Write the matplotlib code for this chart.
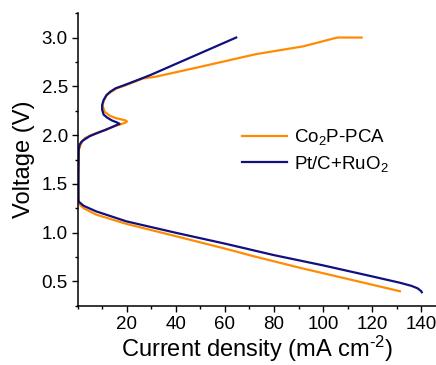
import numpy as np
import matplotlib
matplotlib.use("Agg")
import matplotlib.pyplot as plt
from matplotlib.ticker import MultipleLocator

plt.rcParams['font.family'] = ['Liberation Sans', 'DejaVu Sans']
plt.rcParams['mathtext.fontset'] = 'custom'
plt.rcParams['mathtext.rm'] = 'Liberation Sans'
plt.rcParams['mathtext.it'] = 'Liberation Sans:italic'

# Co2P-PCA: discharge branch then charge branch
co2p_current = [131.3, 111, 90.6, 71.5, 60.5, 40.2, 19.9, 7.6, 2.5, 0.85, 0.4, 0.3,
                0.3, 0.5, 1.2, 2, 3, 5.5, 8.5, 12, 15, 18, 19.6, 20.1, 19.6, 18, 15.5,
                13, 11, 10.2, 10.6, 11.8, 13.8, 16, 19.5, 26.6, 32.1, 50, 72.7, 92,
                104.2, 106, 115.7]
co2p_voltage = [0.40, 0.52, 0.64, 0.76, 0.834, 0.963, 1.09, 1.185, 1.25, 1.287, 1.3, 1.32,
                1.6, 1.85, 1.9, 1.94, 1.97, 2.0, 2.03, 2.06, 2.09, 2.115, 2.13, 2.14, 2.15, 2.16, 2.175,
                2.2, 2.24, 2.3, 2.35, 2.41, 2.445, 2.48, 2.51, 2.58, 2.6, 2.70, 2.83, 2.91,
                2.99, 3.0, 3.0]

# Pt/C+RuO2
ptc_current = [140.2, 140, 138.5, 136, 131.3, 120, 100, 80, 60.5, 40.2, 19.9, 7.6, 2.5, 0.85,
               0.45, 0.35, 0.35, 0.45, 0.8, 1.5, 2.5, 5, 7.9, 11, 14.7, 16.5, 17.1, 16, 14,
               12, 10.6, 10.0, 10, 10.6, 11.8, 13.3, 15.5, 18.8, 24, 29.6, 64.6]
ptc_voltage = [0.39, 0.40, 0.43, 0.455, 0.487, 0.552, 0.665, 0.77, 0.885, 0.998, 1.116, 1.218, 1.275, 1.31,
               1.32, 1.35, 1.6, 1.85, 1.9, 1.93, 1.95, 1.99, 2.02, 2.05, 2.09, 2.11, 2.115, 2.13, 2.15,
               2.18, 2.21, 2.26, 2.31, 2.36, 2.41, 2.445, 2.48, 2.51, 2.56, 2.615, 3.0]

fig = plt.figure(figsize=(4.36, 3.65), dpi=100)
ax = fig.add_axes([0.178, 0.162, 0.822, 0.802])

ax.plot(co2p_current, co2p_voltage, color='#ff8c00', lw=1.6, label='Co$_2$P-PCA',
        solid_joinstyle='round')
ax.plot(ptc_current, ptc_voltage, color='#10107f', lw=1.6, label='Pt/C+RuO$_2$',
        solid_joinstyle='round')

ax.set_xlim(0, 146)
ax.set_ylim(0.25, 3.25)
ax.set_xticks([20, 40, 60, 80, 100, 120, 140])
ax.xaxis.set_minor_locator(MultipleLocator(10))
ax.yaxis.set_major_locator(MultipleLocator(0.5))
ax.yaxis.set_minor_locator(MultipleLocator(0.25))
ax.tick_params(which='major', direction='out', length=4, width=1, labelsize=13.5, pad=3)
ax.tick_params(which='minor', direction='out', length=2.5, width=1)
ax.spines['top'].set_visible(False)
ax.spines['right'].set_visible(False)
for s in ['left', 'bottom']:
    ax.spines[s].set_linewidth(1.1)

ax.set_xlabel(r'Current density (mA cm$^{\text{-2}}$)', fontsize=17, labelpad=1)
ax.set_ylabel('Voltage (V)', fontsize=17, labelpad=5)

ax.legend(loc='upper left', bbox_to_anchor=(0.413, 0.668), frameon=False, fontsize=13.5,
          handlelength=2.4, handletextpad=0.35, labelspacing=0.35)

plt.savefig('out.png', dpi=100)
